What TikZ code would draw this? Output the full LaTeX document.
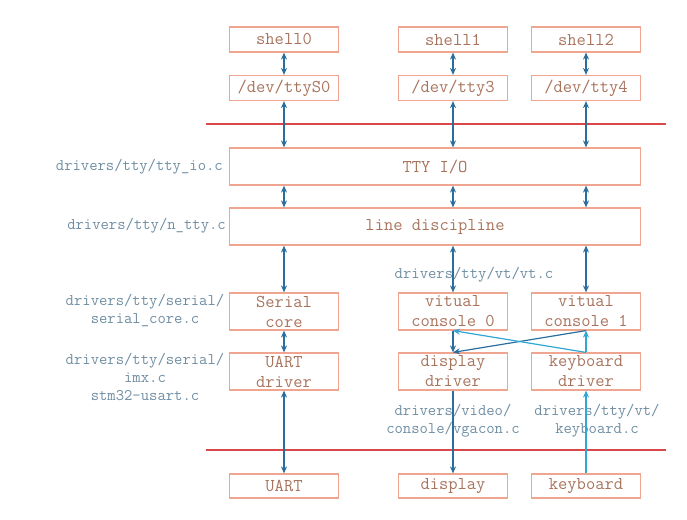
\documentclass[tikz,border=0pt]{standalone}
\usepackage{fontspec}
\usetikzlibrary{arrows.meta}
\definecolor{boxline}{HTML}{EFA58F}
\definecolor{boxtext}{HTML}{A8735C}
\definecolor{lbltext}{HTML}{6F8EA3}
\definecolor{darkarr}{HTML}{2A6E9E}
\definecolor{lightarr}{HTML}{2FA6D6}
\definecolor{redline}{HTML}{D9474A}
\begin{document}
\begin{tikzpicture}[
  x=1pt, y=-1pt,
  box/.style={draw=boxline, line width=1.2pt, text=boxtext, inner sep=0pt,
    minimum width=109pt, minimum height=37pt, align=center,
    font=\fontsize{18}{20}\selectfont\ttfamily},
  lbl/.style={text=lbltext, inner sep=0pt, align=center,
    font=\fontsize{16.2}{18}\selectfont\ttfamily},
  dbl/.style={darkarr, line width=1.2pt, {Stealth[length=7pt,width=6pt]}-{Stealth[length=7pt,width=6pt]}},
  dn/.style={darkarr, line width=1.2pt, -{Stealth[length=7pt,width=6pt]}},
  up/.style={lightarr, line width=1.2pt, -{Stealth[length=7pt,width=6pt]}}
]
  \useasboundingbox (0,0) rectangle (687,519);

  \node[box, minimum height=25pt] (sh0) at (284, 39.5) {shell0};
  \node[box, minimum height=25pt] (sh1) at (453, 39.5) {shell1};
  \node[box, minimum height=25pt] (sh2) at (586, 39.5) {shell2};
  \node[box, minimum height=25pt] (dev0) at (284, 88) {/dev/ttyS0};
  \node[box, minimum height=25pt] (dev3) at (453, 88) {/dev/tty3};
  \node[box, minimum height=25pt] (dev4) at (586, 88) {/dev/tty4};

  \node[box, minimum width=411pt] (ttyio) at (435, 166.5) {TTY I/O};
  \node[box, minimum width=411pt] (ldisc) at (435, 226.5) {line discipline};

  \node[box] (score) at (284, 311.5) {Serial\\core};
  \node[box] (vc0) at (453, 311.5) {vitual\\console 0};
  \node[box] (vc1) at (586, 311.5) {vitual\\console 1};
  \node[box] (uartdrv) at (284, 371.5) {UART\\driver};
  \node[box] (dispdrv) at (453, 371.5) {display\\driver};
  \node[box] (kbddrv) at (586, 371.5) {keyboard\\driver};

  \node[box, minimum height=24pt] (uart) at (284, 486) {UART};
  \node[box, minimum height=24pt] (disp) at (453, 486) {display};
  \node[box, minimum height=24pt] (kbd) at (586, 486) {keyboard};

  \node[lbl, anchor=east] (lttyio) at (223, 167) {drivers/tty/tty\_io.c};
  \node[lbl, anchor=east] (lntty) at (226, 226) {drivers/tty/n\_tty.c};
  \node[lbl] (lscore) at (145, 310) {drivers/tty/serial/\\serial\_core.c};
  \node[lbl] (luart) at (145, 377) {drivers/tty/serial/\\imx.c\\stm32-usart.c};
  \node[lbl] (lvt) at (474, 275) {drivers/tty/vt/vt.c};
  \node[lbl] (lvga) at (453, 421) {drivers/video/\\console/vgacon.c};
  \node[lbl] (lkbd) at (597, 421) {drivers/tty/vt/\\keyboard.c};

  \draw[redline, line width=1.5pt] (206, 124) -- (666, 124);
  \draw[redline, line width=1.5pt] (206, 450) -- (666, 450);

  \draw[dbl] (sh0) -- (dev0);
  \draw[dbl] (sh1) -- (dev3);
  \draw[dbl] (sh2) -- (dev4);
  \draw[dbl] (dev0) -- (ttyio.north -| dev0);
  \draw[dbl] (dev3) -- (ttyio.north -| dev3);
  \draw[dbl] (dev4) -- (ttyio.north -| dev4);
  \draw[dbl] (ttyio.south -| score) -- (ldisc.north -| score);
  \draw[dbl] (ttyio.south -| vc0) -- (ldisc.north -| vc0);
  \draw[dbl] (ttyio.south -| vc1) -- (ldisc.north -| vc1);
  \draw[dbl] (ldisc.south -| score) -- (score);
  \draw[dbl] (ldisc.south -| vc0) -- (vc0);
  \draw[dbl] (ldisc.south -| vc1) -- (vc1);
  \draw[dbl] (score) -- (uartdrv);
  \draw[dbl] (uartdrv) -- (uart);

  \draw[dn] (vc0) -- (dispdrv);
  \draw[dn] (vc1.south) -- (dispdrv.north);
  \draw[up] (kbddrv.north) -- (vc0.south);
  \draw[up] (kbddrv) -- (vc1);
  \draw[dn] (dispdrv) -- (disp);
  \draw[up] (kbd) -- (kbddrv);
\end{tikzpicture}
\end{document}
